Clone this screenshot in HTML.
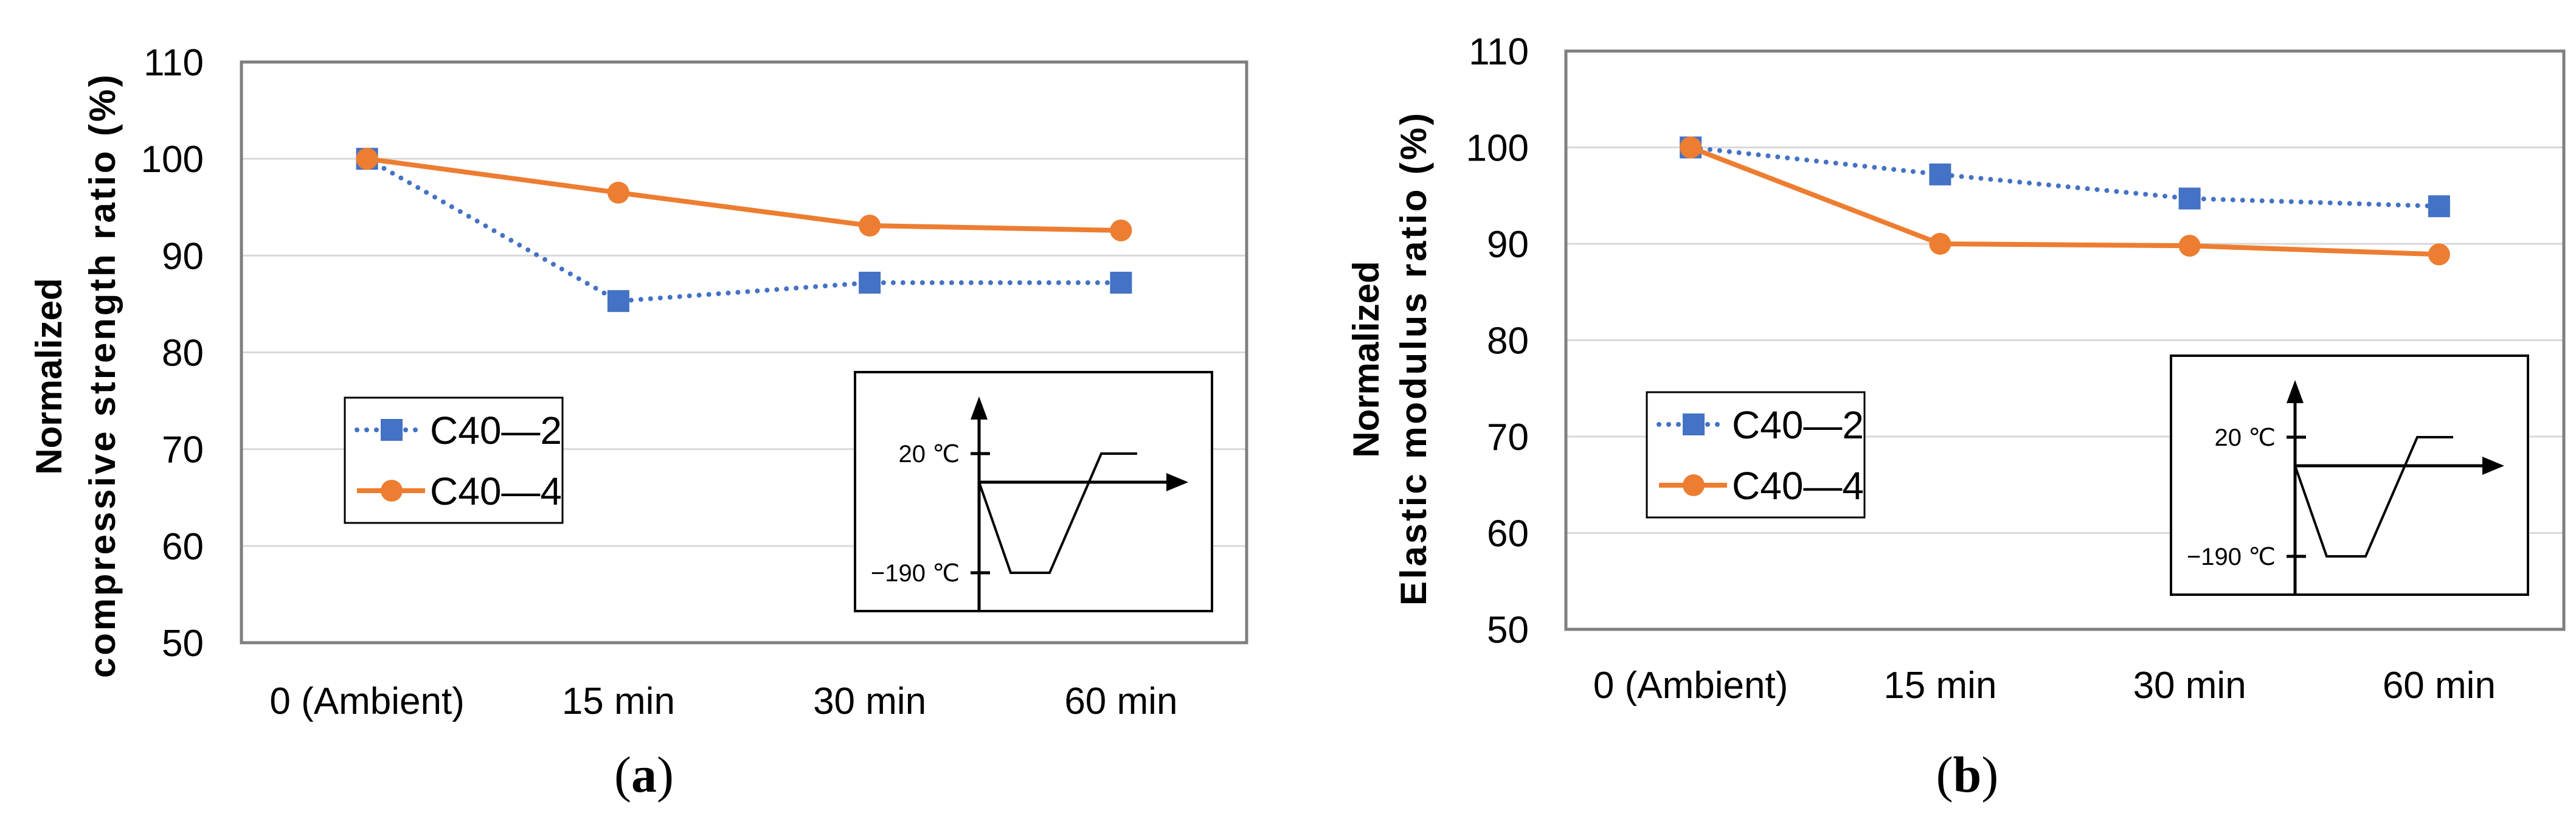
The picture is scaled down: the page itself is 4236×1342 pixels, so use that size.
<!DOCTYPE html>
<html><head><meta charset="utf-8"><style>
html,body{margin:0;padding:0;background:#fff}
svg{display:block}
text{font-family:"Liberation Sans","DejaVu Sans",sans-serif}
text.serif{font-family:"Liberation Serif",serif}
</style></head><body>
<svg id="fig" width="4236" height="1342" viewBox="0 0 4236 1342" xmlns="http://www.w3.org/2000/svg"></svg>
<script>
const categories = ["0 (Ambient)", "15 min", "30 min", "60 min"];
const yTicks = [50, 60, 70, 80, 90, 100, 110];
const seriesNames = ["C40\u20142", "C40\u20144"];
const strengthC402 = [100, 85.3, 87.2, 87.2];
const strengthC404 = [100, 96.5, 93.1, 92.6];
const modulusC402 = [100, 97.2, 94.7, 93.9];
const modulusC404 = [100, 90.0, 89.8, 88.9];

const NS = "http://www.w3.org/2000/svg";
const svg = document.getElementById("fig");
function el(tag, attrs, parent, txt){
  const e = document.createElementNS(NS, tag);
  for (const k in attrs) e.setAttribute(k, attrs[k]);
  if (txt !== undefined) e.textContent = txt;
  (parent || svg).appendChild(e);
  return e;
}
const BLUE = "#4472C4", ORANGE = "#ED7D31";

function panel(cfg){
  const g = el("g", {});
  
  
  const {x0, x1, yTop, yBot} = cfg;
  const ymin = 50, ymax = 110;
  const yS = v => yBot - (v - ymin) / (ymax - ymin) * (yBot - yTop);
  const bw = (x1 - x0) / categories.length;
  const xS = i => x0 + bw * (i + 0.5);
  yTicks.forEach(t => {
    if (t === ymin || t === ymax) return;
    const l = el("line", {x1: x0, x2: x1, y1: yS(t), y2: yS(t), stroke: "#d9d9d9", "stroke-width": 3}, g);
    
    
  });
  const box = el("rect", {x: x0, y: yTop, width: x1 - x0, height: yBot - yTop, fill: "none", stroke: "#7f7f7f", "stroke-width": 5}, g);
  
  
  yTicks.forEach(t => {
    const tx = el("text", {x: cfg.tickX, y: yS(t) + 22, "text-anchor": "end", "font-size": 62, fill: "#000"}, g, String(t));
    
    
  });
  categories.forEach((c, i) => {
    const tx = el("text", {x: xS(i), y: cfg.catY, "text-anchor": "middle", "font-size": 62, fill: "#000"}, g, c);
    
    
  });
  const tt = el("g", {transform: `translate(${cfg.titleX},${cfg.titleY}) rotate(-90)`}, g);
  
  
  el("text", {x: 0, y: -cfg.titleGap / 2 + 20, "text-anchor": "middle", "font-size": 60, "font-weight": "bold"}, tt, "Normalized");
  el("text", {x: 0, y: cfg.titleGap / 2 + 20, "text-anchor": "middle", "font-size": 60, "font-weight": "bold", textLength: cfg.title2Len, lengthAdjust: "spacing"}, tt, cfg.title2);
  const pb = cfg.s1.map((v, i) => `${xS(i)},${yS(v)}`).join(" ");
  const lb = el("polyline", {points: pb, fill: "none", stroke: BLUE, "stroke-width": 8, "stroke-dasharray": "0 16", "stroke-linecap": "round"}, g);
  
  
  cfg.s1.forEach((v, i) => {
    const m = el("rect", {x: xS(i) - 18, y: yS(v) - 18, width: 36, height: 36, fill: BLUE}, g);
    
    
  });
  const po = cfg.s2.map((v, i) => `${xS(i)},${yS(v)}`).join(" ");
  const lo = el("polyline", {points: po, fill: "none", stroke: ORANGE, "stroke-width": 8, "stroke-linejoin": "round"}, g);
  
  
  cfg.s2.forEach((v, i) => {
    const m = el("circle", {cx: xS(i), cy: yS(v), r: 18, fill: ORANGE}, g);
    
    
  });
  const lg = el("g", {transform: `translate(${cfg.legX},${cfg.legY})`}, g);
  
  
  el("rect", {x: 0, y: 0, width: 358, height: 206, fill: "#fff", stroke: "#000", "stroke-width": 3}, lg);
  el("line", {x1: 20, x2: 132, y1: 53, y2: 53, stroke: BLUE, "stroke-width": 8, "stroke-dasharray": "0 16", "stroke-linecap": "round"}, lg);
  el("rect", {x: 59, y: 35, width: 36, height: 36, fill: BLUE}, lg);
  el("text", {x: 140, y: 76, "font-size": 64}, lg, seriesNames[0]);
  el("line", {x1: 20, x2: 132, y1: 153, y2: 153, stroke: ORANGE, "stroke-width": 8}, lg);
  el("circle", {cx: 77, cy: 153, r: 18, fill: ORANGE}, lg);
  el("text", {x: 140, y: 176, "font-size": 64}, lg, seriesNames[1]);
  const ig = el("g", {transform: `translate(${cfg.insX},${cfg.insY})`}, g);
  
  
  el("rect", {x: 0, y: 0, width: 587, height: 393, fill: "#fff", stroke: "#000", "stroke-width": 4}, ig);
  el("line", {x1: 204, x2: 204, y1: 75, y2: 393, stroke: "#000", "stroke-width": 5}, ig);
  el("polygon", {points: "204,40 190,78 218,78", fill: "#000"}, ig);
  el("line", {x1: 204, x2: 515, y1: 181, y2: 181, stroke: "#000", "stroke-width": 5}, ig);
  el("polygon", {points: "548,181 512,166 512,196", fill: "#000"}, ig);
  el("line", {x1: 190, x2: 222, y1: 134, y2: 134, stroke: "#000", "stroke-width": 5}, ig);
  el("line", {x1: 190, x2: 222, y1: 330, y2: 330, stroke: "#000", "stroke-width": 5}, ig);
  el("polyline", {points: "204,181 256,330 320,330 405,134 464,134", fill: "none", stroke: "#000", "stroke-width": 4}, ig);
  el("text", {x: 172, y: 148, "text-anchor": "end", "font-size": 40}, ig, "20 \u2103");
  el("text", {x: 172, y: 344, "text-anchor": "end", "font-size": 40}, ig, "\u2212190 \u2103");
  const pl = el("text", {x: cfg.labX, y: 1302, "text-anchor": "middle", "font-size": 84, "class": "serif"}, g, "");
  
  
  el("tspan", {}, pl, "(");
  el("tspan", {"font-weight": "bold"}, pl, cfg.label);
  el("tspan", {}, pl, ")");
}

panel({name: "chart-a-compressive-strength", x0: 397, x1: 2050, yTop: 102, yBot: 1057, tickX: 335, catY: 1174,
  titleX: 125, titleY: 619, titleGap: 88, title2: "compressive  strength  ratio  (%)", title2Len: 992,
  s1: strengthC402, s2: strengthC404, legX: 567, legY: 654, insX: 1406, insY: 612, labX: 1059, label: "a"});
panel({name: "chart-b-elastic-modulus", x0: 2575, x1: 4216, yTop: 84, yBot: 1035, tickX: 2514, catY: 1148,
  titleX: 2286, titleY: 591, titleGap: 78, title2: "Elastic  modulus  ratio  (%)", title2Len: 810,
  s1: modulusC402, s2: modulusC404, legX: 2708, legY: 645, insX: 3570, insY: 585, labX: 3235, label: "b"});
</script>
</body></html>
